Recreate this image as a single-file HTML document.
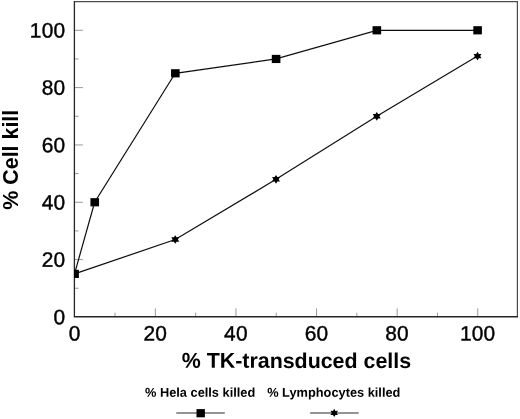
<!DOCTYPE html>
<html><head><meta charset="utf-8"><title>Cell kill chart</title>
<style>
html,body{margin:0;padding:0;background:#fff;}
body{width:520px;height:419px;overflow:hidden;}
svg{display:block;}
text{font-family:"Liberation Sans",Arial,Helvetica,sans-serif;fill:#000;}
.tl{font-size:20.9px;stroke:#000;stroke-width:0.42px;letter-spacing:0.22px;}
.ti{font-size:21.4px;font-weight:bold;}
.lg{font-size:12.8px;font-weight:bold;}
</style></head><body>
<svg width="520" height="419" viewBox="0 0 520 419">
<rect width="520" height="419" fill="#fff"/>
<defs><clipPath id="c"><rect x="74" y="1" width="444" height="316"/></clipPath>
<filter id="soft" x="0" y="0" width="520" height="419" filterUnits="userSpaceOnUse"><feGaussianBlur stdDeviation="0.38"/></filter></defs>
<g filter="url(#soft)">
<g stroke="#989898" stroke-width="1" fill="none">
<line x1="75" y1="288.24" x2="78.60" y2="288.24"/>
<line x1="115.05" y1="316.3" x2="115.05" y2="312.70"/>
<line x1="75" y1="259.58" x2="82.90" y2="259.58"/>
<line x1="155.35" y1="316.3" x2="155.35" y2="308.40"/>
<line x1="75" y1="230.92" x2="78.60" y2="230.92"/>
<line x1="195.65" y1="316.3" x2="195.65" y2="312.70"/>
<line x1="75" y1="202.26" x2="82.90" y2="202.26"/>
<line x1="235.95" y1="316.3" x2="235.95" y2="308.40"/>
<line x1="75" y1="173.60" x2="78.60" y2="173.60"/>
<line x1="276.25" y1="316.3" x2="276.25" y2="312.70"/>
<line x1="75" y1="144.94" x2="82.90" y2="144.94"/>
<line x1="316.55" y1="316.3" x2="316.55" y2="308.40"/>
<line x1="75" y1="116.28" x2="78.60" y2="116.28"/>
<line x1="356.85" y1="316.3" x2="356.85" y2="312.70"/>
<line x1="75" y1="87.62" x2="82.90" y2="87.62"/>
<line x1="397.15" y1="316.3" x2="397.15" y2="308.40"/>
<line x1="75" y1="58.96" x2="78.60" y2="58.96"/>
<line x1="437.45" y1="316.3" x2="437.45" y2="312.70"/>
<line x1="75" y1="30.30" x2="82.90" y2="30.30"/>
<line x1="477.75" y1="316.3" x2="477.75" y2="308.40"/>
</g>
<path d="M74.4 1.6H517.4V316.75" fill="none" stroke="#4c4c4c" stroke-width="1.2"/>
<path d="M74.4 1V316.75H518" fill="none" stroke="#262626" stroke-width="1.3"/>
<g clip-path="url(#c)"><g>
<polyline fill="none" stroke="#111" stroke-width="1.22" points="74.50,273.91 94.65,202.26 175.25,73.29 276.00,58.96 376.75,30.30 477.50,30.30"/>
<polyline fill="none" stroke="#111" stroke-width="1.22" points="74.50,273.91 175.25,239.52 276.00,179.33 376.75,116.28 477.50,56.09"/>
<g fill="#000">
<rect x="70.30" y="269.81" width="8.60" height="8.20"/>
<rect x="90.45" y="198.16" width="8.60" height="8.20"/>
<rect x="171.05" y="69.19" width="8.60" height="8.20"/>
<rect x="271.80" y="54.86" width="8.60" height="8.20"/>
<rect x="372.55" y="26.20" width="8.60" height="8.20"/>
<rect x="473.30" y="26.20" width="8.60" height="8.20"/>
<polygon points="175.25,235.17 176.59,237.31 179.21,237.34 177.93,239.52 179.21,241.69 176.59,241.73 175.25,243.87 173.91,241.73 171.29,241.69 172.57,239.52 171.29,237.34 173.91,237.31"/>
<polygon points="276.00,174.98 277.34,177.12 279.96,177.16 278.68,179.33 279.96,181.51 277.34,181.54 276.00,183.68 274.66,181.54 272.04,181.51 273.32,179.33 272.04,177.16 274.66,177.12"/>
<polygon points="376.75,111.93 378.09,114.07 380.71,114.10 379.43,116.28 380.71,118.45 378.09,118.49 376.75,120.63 375.41,118.49 372.79,118.45 374.07,116.28 372.79,114.10 375.41,114.07"/>
<polygon points="477.50,51.74 478.84,53.89 481.46,53.92 480.18,56.09 481.46,58.27 478.84,58.30 477.50,60.44 476.16,58.30 473.54,58.27 474.82,56.09 473.54,53.92 476.16,53.89"/>
</g></g></g>
<text class="tl" x="65.35" y="324.15" text-anchor="end" transform="rotate(0.03 65.35 324.15)">0</text>
<text class="tl" x="74.70" y="340.60" text-anchor="middle" transform="rotate(0.03 74.70 340.60)">0</text>
<text class="tl" x="65.35" y="266.83" text-anchor="end" transform="rotate(0.03 65.35 266.83)">20</text>
<text class="tl" x="155.30" y="340.60" text-anchor="middle" transform="rotate(0.03 155.30 340.60)">20</text>
<text class="tl" x="65.35" y="209.51" text-anchor="end" transform="rotate(0.03 65.35 209.51)">40</text>
<text class="tl" x="235.90" y="340.60" text-anchor="middle" transform="rotate(0.03 235.90 340.60)">40</text>
<text class="tl" x="65.35" y="152.19" text-anchor="end" transform="rotate(0.03 65.35 152.19)">60</text>
<text class="tl" x="316.50" y="340.60" text-anchor="middle" transform="rotate(0.03 316.50 340.60)">60</text>
<text class="tl" x="65.35" y="94.87" text-anchor="end" transform="rotate(0.03 65.35 94.87)">80</text>
<text class="tl" x="397.10" y="340.60" text-anchor="middle" transform="rotate(0.03 397.10 340.60)">80</text>
<text class="tl" x="65.35" y="37.55" text-anchor="end" transform="rotate(0.03 65.35 37.55)">100</text>
<text class="tl" x="477.70" y="340.60" text-anchor="middle" transform="rotate(0.03 477.70 340.60)">100</text>
<text class="ti" x="296.40" y="367.90" text-anchor="middle" transform="rotate(0.03 296.40 367.90)">% TK-transduced cells</text>
<text class="ti" style="font-size:21.4px" transform="translate(17.5,159.7) rotate(-90)" text-anchor="middle">% Cell kill</text>
<text class="lg" x="145.00" y="396.80" text-anchor="start" transform="rotate(0.03 145.00 396.80)">% Hela cells killed</text>
<text class="lg" x="267.20" y="396.80" text-anchor="start" transform="rotate(0.03 267.20 396.80)">% Lymphocytes killed</text>
<g stroke="#2a2a2a" stroke-width="1.05"><line x1="176.3" y1="412.9" x2="224.8" y2="412.9"/><line x1="310.2" y1="412.9" x2="358.7" y2="412.9"/></g>
<g fill="#000"><rect x="196.50" y="409.10" width="8.40" height="8.20"/><polygon points="334.20,408.80 335.41,410.91 337.93,410.85 336.62,412.90 337.93,414.95 335.41,414.89 334.20,417.00 332.99,414.89 330.47,414.95 331.78,412.90 330.47,410.85 332.99,410.91"/></g>
</g></svg></body></html>
